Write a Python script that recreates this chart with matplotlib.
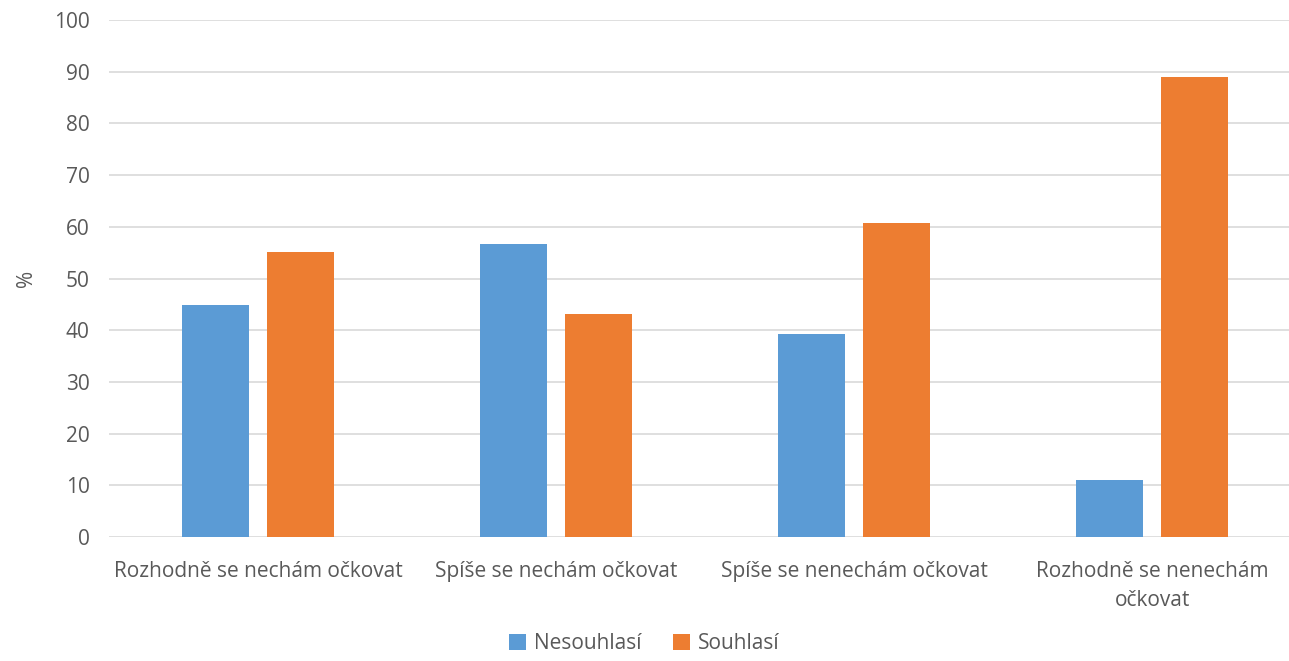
import matplotlib
matplotlib.use("Agg")
import matplotlib.pyplot as plt
import numpy as np

categories = ["Rozhodně se nechám očkovat", "Spíše se nechám očkovat",
              "Spíše se nenechám očkovat", "Rozhodně se nenechám\nočkovat"]
nesouhlasi = [44.8, 56.7, 39.2, 11.1]
souhlasi = [55.2, 43.2, 60.7, 88.9]

plt.rcParams['font.family'] = ['Open Sans', 'DejaVu Sans']
txt = "#595959"

fig = plt.figure(figsize=(12.89, 6.61), dpi=100)
# plot area runs a little past the right edge, as in the original crop
ax = fig.add_axes([0.0846, 0.1876, 0.9248, 0.782])

x = np.arange(len(categories))
w = 0.225
off = 0.1426
ax.bar(x - off, nesouhlasi, w, color="#5b9bd5", label="Nesouhlasí", zorder=3)
ax.bar(x + off, souhlasi, w, color="#ed7d31", label="Souhlasí", zorder=3)

ax.set_xlim(-0.5, len(categories) - 0.5)
ax.set_ylim(0, 100)
ax.set_yticks(range(0, 101, 10))
ax.yaxis.grid(True, color="#d9d9d9", linewidth=1.2, zorder=0)
for s in ax.spines.values():
    s.set_visible(False)
ax.tick_params(length=0, colors=txt, labelsize=15)
ax.tick_params(axis="y", pad=14)
ax.tick_params(axis="x", pad=17)
ax.set_xticks(x)
ax.set_xticklabels(categories, color=txt, linespacing=1.55)
ax.set_ylabel("%", color=txt, fontsize=15, labelpad=12)

fig.legend(loc="lower center", bbox_to_anchor=(0.5, -0.018), ncol=2, frameon=False,
           fontsize=15, labelcolor=txt, handlelength=0.8, handleheight=0.8,
           handletextpad=0.4, columnspacing=1.5)

fig.savefig("out.png", dpi=100)
